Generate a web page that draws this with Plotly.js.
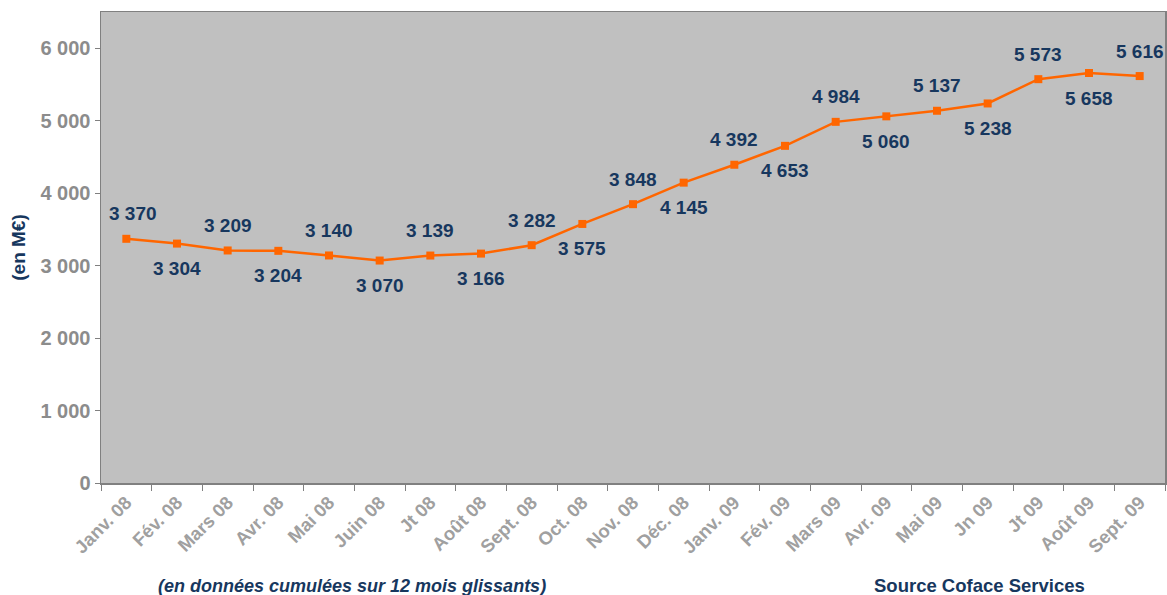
<!DOCTYPE html>
<html><head><meta charset="utf-8">
<script src="https://cdn.plot.ly/plotly-3.0.1.min.js"></script>
<style>html,body{margin:0;padding:0;background:#fff}#c{width:1167px;height:595px}</style>
</head><body><div id="c"></div>
<script>
var months = ["Janv. 08","Fév. 08","Mars 08","Avr. 08","Mai 08","Juin 08","Jt 08","Août 08","Sept. 08","Oct. 08","Nov. 08","Déc. 08","Janv. 09","Fév. 09","Mars 09","Avr. 09","Mai 09","Jn 09","Jt 09","Août 09","Sept. 09"];
var values = [3370,3304,3209,3204,3140,3070,3139,3166,3282,3575,3848,4145,4392,4653,4984,5060,5137,5238,5573,5658,5616];
var labelSide = [1,-1,1,-1,1,-1,1,-1,1,-1,1,-1,1,-1,1,-1,1,-1,1,-1,1];
var yTicks = [0,1000,2000,3000,4000,5000,6000];
var yTickText = ["0","1 000","2 000","3 000","4 000","5 000","6 000"];

function fmt(v){ var s=String(v); return s.length>3 ? s.slice(0,s.length-3)+" "+s.slice(-3) : s; }

var navy = "#17375E";
var ann = months.map(function(m,i){
  return {x:m, y:values[i], xref:"x", yref:"y", text:fmt(values[i]), showarrow:false,
    yshift: labelSide[i]*25, xshift: i===0 ? 7 : 0,
    font:{family:"Liberation Sans, Arial, sans-serif", size:19, color:navy, weight:"bold"}};
});
ann.push({xref:"paper", yref:"paper", x:0.236, y:-0.218, xanchor:"center", yanchor:"middle", showarrow:false,
  text:"<b><i>(en données cumulées sur 12 mois glissants)</i></b>",
  font:{family:"Liberation Sans, Arial, sans-serif", size:18, color:navy}});
ann.push({xref:"paper", yref:"paper", x:0.826, y:-0.218, xanchor:"center", yanchor:"middle", showarrow:false,
  text:"<b>Source Coface Services</b>",
  font:{family:"Liberation Sans, Arial, sans-serif", size:18.5, color:navy}});

var trace = {x:months, y:values, type:"scatter", mode:"lines+markers",
  line:{color:"#FF6600", width:2.5}, marker:{symbol:"square", size:8, color:"#FF6600"},
  hoverinfo:"x+y"};

var layout = {
  width:1167, height:595,
  margin:{l:101, r:2, t:12, b:112},
  paper_bgcolor:"#ffffff", plot_bgcolor:"#C0C0C0",
  showlegend:false,
  font:{family:"Liberation Sans, Arial, sans-serif"},
  xaxis:{type:"category", range:[-0.5, months.length-0.5], autorange:false, tickson:"boundaries", ticks:"outside", ticklen:6, tickcolor:"#808080",
    showline:true, linecolor:"#808080", linewidth:1.5, mirror:true, showgrid:false,
    tickangle:-45, tickfont:{size:18.5, color:"#A0A0A0", weight:"bold"}},
  yaxis:{range:[0,6500], autorange:false, tickvals:yTicks, ticktext:yTickText, ticks:"outside", ticklen:5, tickcolor:"#808080",
    showline:true, linecolor:"#808080", linewidth:1.5, mirror:true, showgrid:false, zeroline:false,
    tickfont:{size:20, color:"#8C8C8C", weight:"bold"},
    title:{text:"(en M€)", standoff:10, font:{size:19, color:navy, weight:"bold"}}},
  annotations:ann
};
Plotly.newPlot("c",[trace],layout,{displayModeBar:false, staticPlot:true});
</script></body></html>
